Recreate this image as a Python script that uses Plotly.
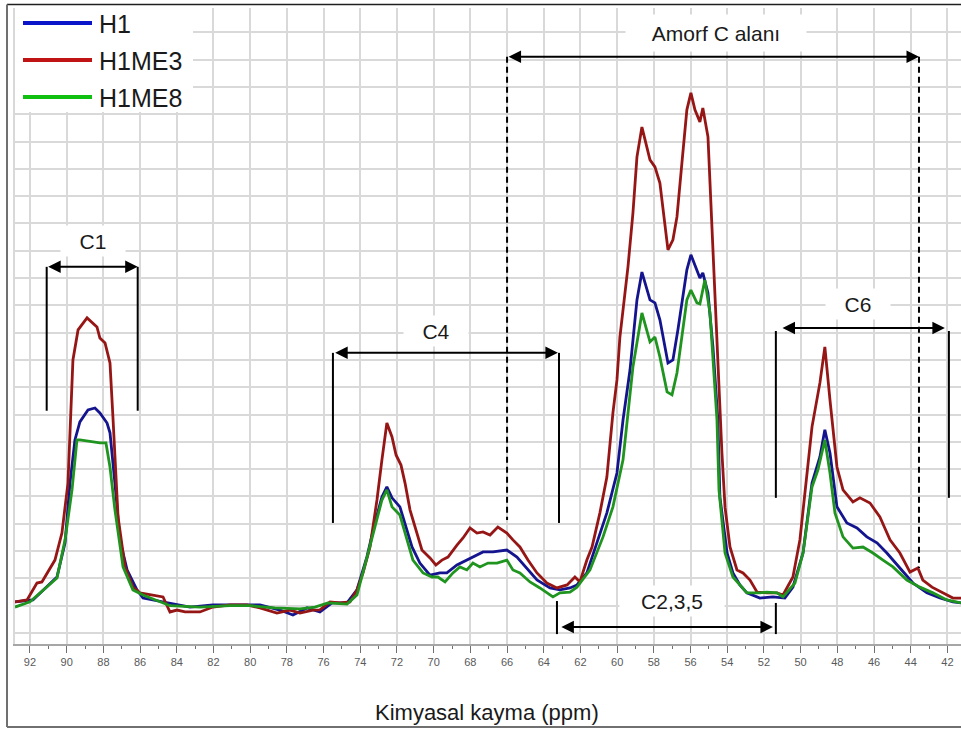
import plotly.graph_objects as go

# ---------------- data (ppm, intensity in arbitrary units) ----------------
h1_ppm = [92.82, 91.84, 90.53, 90.09, 89.82, 89.55, 89.28, 88.84, 88.46, 88.19, 87.80, 87.64,
          87.37, 87.10, 86.71, 86.17, 85.84,
          84.53, 83.28, 82.03, 80.94, 79.47, 78.38, 77.67, 76.90, 76.20,
          75.54, 74.72, 74.18, 73.64, 73.20, 72.82, 72.55, 72.27, 71.84, 71.56, 71.18, 70.75,
          70.20, 69.66, 69.28, 68.73, 68.19, 67.64, 67.31, 66.77, 66.01, 65.46, 64.92, 64.37,
          63.66, 63.12, 62.57, 62.19,
          61.65, 61.10, 60.56, 60.01, 59.68, 59.30, 58.92, 58.65, 58.21, 57.94, 57.67, 57.23,
          56.96, 56.69, 56.20, 55.98, 55.65, 55.49, 55.33, 55.05, 54.78, 54.51, 54.40, 54.01,
          53.69, 53.31, 52.93, 52.22, 51.51,
          50.86, 50.42, 49.87, 49.38, 48.95, 48.68, 48.40, 48.02, 47.48, 46.93, 46.39, 45.84,
          45.30, 44.59, 43.88, 43.12, 42.41, 41.70, 41.26]
h1_int = [1.14, 1.21, 2.05, 3.30, 5.49, 7.07, 7.73, 8.17, 8.24, 8.06, 7.69, 7.33,
          5.49, 3.41, 2.31, 1.58, 1.28,
          1.10, 0.95, 1.03, 1.03, 1.03, 0.84, 0.66, 0.92, 0.77,
          1.10, 1.10, 1.58, 2.78, 4.03, 4.98, 5.35, 4.95, 4.62, 4.03, 3.15, 2.56,
          2.12, 2.20, 2.20, 2.49, 2.67, 2.86, 2.97, 2.97, 3.04, 2.78, 2.38, 1.94,
          1.65, 1.58, 1.65, 1.76,
          2.20, 3.30, 4.40, 5.86, 7.80, 9.63, 12.20, 13.22, 12.20, 12.09, 11.47, 9.89,
          10.00, 11.10, 13.30, 13.85, 13.30, 13.00, 13.19, 12.45, 10.48, 7.80, 4.98, 2.93,
          2.20, 1.76, 1.47, 1.28, 1.32,
          1.28, 1.68, 2.93, 5.49, 6.45, 7.44, 6.59, 4.62, 4.03, 3.85, 3.52, 3.30,
          2.93, 2.38, 1.83, 1.47, 1.28, 1.14, 1.10]

h1me3_ppm = [92.82, 92.16, 91.62, 91.35, 90.64, 90.26, 89.93, 89.66, 89.38, 88.89, 88.35, 88.19,
             87.91, 87.64, 87.48, 87.20, 86.82, 86.39, 86.01,
             84.75, 84.37, 83.99, 83.55, 82.74, 82.03, 81.10, 80.17, 79.47, 78.54, 77.83, 77.29,
             76.58, 76.20,
             75.65, 75.11, 74.56, 74.18, 73.85, 73.47, 73.09, 72.82, 72.55, 72.27, 72.05, 71.78,
             71.56, 71.29, 70.91, 70.64, 70.20, 69.88, 69.55, 69.22, 68.73, 68.40, 68.02, 67.64,
             67.31, 66.93, 66.50, 66.01, 65.68, 65.30, 64.86, 64.37, 63.83, 63.28, 62.73, 62.30,
             62.03,
             61.65, 61.37, 60.94, 60.56, 60.23, 60.01, 59.85, 59.41, 59.14, 58.92, 58.65, 58.21,
             57.94, 57.67, 57.39, 57.23, 56.96, 56.74, 56.47, 56.20, 55.98, 55.76, 55.49, 55.33,
             55.05, 54.78, 54.51, 54.29, 54.12, 53.85, 53.47, 53.14, 52.76, 52.38, 51.84, 51.29,
             50.96, 50.42, 50.04, 49.66, 49.38, 48.95, 48.68, 48.40, 48.02, 47.69, 47.15, 46.77,
             46.22, 45.68, 45.13, 44.59, 44.04, 43.61, 43.34, 42.84, 42.25, 41.70, 41.26]
h1me3_int = [1.14, 1.21, 1.83, 1.87, 2.67, 3.66, 5.49, 10.00, 11.10, 11.54, 11.21, 10.80,
             10.62, 9.89, 7.91, 4.25, 2.42, 1.68, 1.47,
             1.32, 0.77, 0.84, 0.77, 0.77, 0.95, 1.03, 1.03, 0.92, 0.73, 0.84, 0.73,
             0.84, 0.85,
             1.14, 1.10, 1.14, 1.58, 2.20, 3.15, 4.87, 6.34, 7.69, 7.18, 6.52, 6.15,
             5.49, 4.51, 3.66, 3.04, 2.75, 2.49, 2.67, 2.78, 3.22, 3.48, 3.85, 3.66,
             3.70, 3.59, 3.88, 3.66, 3.41, 3.15, 2.67, 2.20, 1.83, 1.65, 1.76, 2.05,
             1.87,
             2.67, 3.15, 4.40, 5.71, 8.06, 9.27, 10.84, 13.41, 15.38, 17.44, 18.53, 17.33,
             17.07, 16.48, 14.76, 14.03, 14.40, 15.24, 17.22, 19.16, 19.78, 19.16, 18.72, 19.23,
             18.17, 14.14, 9.60, 6.60, 4.60, 3.15, 2.31, 2.20, 1.94, 1.50, 1.47, 1.47,
             1.39, 2.05, 3.41, 5.86, 7.55, 9.16, 10.48, 8.53, 6.08, 5.24, 4.80, 4.95,
             4.76, 4.25, 3.41, 2.93, 2.23, 2.38, 1.94, 1.68, 1.47, 1.28, 1.28]

h1me8_ppm = [92.82, 92.00, 90.53, 90.09, 89.71, 89.44, 89.28, 88.19, 87.86, 87.64, 87.37, 86.93,
             86.39, 85.84,
             84.37, 82.74, 81.10, 80.01, 78.65, 77.29, 76.47, 75.76,
             74.72, 74.18, 73.64, 73.20, 72.82, 72.55, 72.27, 71.84, 71.46, 71.13, 70.58, 70.09,
             69.77, 69.38, 68.95, 68.57, 68.19, 67.86, 67.48, 67.04, 66.55, 66.01, 65.68, 65.30,
             64.75, 64.21, 63.50, 63.12, 62.57, 62.19,
             61.48, 60.77, 60.23, 59.68, 59.14, 58.65, 58.21, 57.94, 57.67, 57.28, 57.01, 56.74,
             56.20, 55.98, 55.65, 55.49, 55.22, 54.94, 54.56, 54.45, 54.12, 53.69, 52.93, 52.22,
             51.84, 51.29,
             50.96, 50.31, 49.87, 49.38, 49.06, 48.68, 48.40, 48.13, 47.69, 47.15, 46.60, 46.06,
             45.51, 44.97, 44.21, 43.50, 42.79, 42.03, 41.26]
h1me8_int = [0.95, 1.14, 2.01, 3.41, 5.24, 7.07, 7.07, 6.96, 6.96, 6.08, 4.51, 2.42,
             1.58, 1.39,
             1.00, 0.95, 1.00, 1.00, 0.92, 0.88, 0.95, 1.10,
             1.06, 1.39, 2.75, 3.88, 4.87, 5.24, 4.62, 4.32, 3.41, 2.67, 2.20, 2.05,
             2.05, 1.87, 2.20, 2.42, 2.31, 2.56, 2.42, 2.56, 2.56, 2.67, 2.31, 2.20,
             1.87, 1.65, 1.32, 1.47, 1.50, 1.68,
             2.31, 3.52, 4.62, 6.34, 9.74, 11.72, 10.66, 10.84, 10.11, 8.83, 8.72, 9.52,
             12.20, 12.56, 12.09, 12.05, 12.93, 11.72, 7.80, 5.24, 2.93, 2.05, 1.47, 1.47,
             1.50, 1.47,
             1.32, 1.83, 2.93, 5.35, 5.97, 7.07, 5.86, 4.40, 3.52, 3.11, 3.15, 2.93,
             2.67, 2.42, 1.94, 1.68, 1.47, 1.21, 1.10]

series_names = ["H1", "H1ME3", "H1ME8"]
line_colors = ["#14148F", "#961616", "#1F951F"]
legend_colors = ["#0A14C8", "#C01414", "#10C010"]
tick_vals = [92, 90, 88, 86, 84, 82, 80, 78, 76, 74, 72, 70, 68, 66, 64, 62, 60,
             58, 56, 54, 52, 50, 48, 46, 44, 42]

# ---------------- figure ----------------
W, H = 961, 729
ML, MR, MT, MB = 15, 0, 8, 85
PW, PH = W - ML - MR, H - MT - MB


def px(x):
    return (x - ML) / PW


def py(y):
    return (H - MB - y) / PH


fig = go.Figure()
for name, xs, ys, col in [("H1", h1_ppm, h1_int, line_colors[0]),
                          ("H1ME3", h1me3_ppm, h1me3_int, line_colors[1]),
                          ("H1ME8", h1me8_ppm, h1me8_int, line_colors[2])]:
    fig.add_trace(go.Scatter(x=xs, y=ys, mode="lines", name=name, showlegend=False,
                             line=dict(color=col, width=2.8)))

FONT = "Liberation Sans, Arial, sans-serif"
shapes = []
annotations = []

# manual legend (white box, long line samples)
shapes.append(dict(type="rect", xref="paper", yref="paper", x0=px(15), x1=px(193),
                   y0=py(112), y1=py(8), fillcolor="white", line=dict(width=0), layer="above"))
for i, (nm, lc) in enumerate(zip(series_names, legend_colors)):
    yy = 23 + 37 * i
    shapes.append(dict(type="line", xref="paper", yref="paper", x0=px(23), x1=px(92),
                       y0=py(yy), y1=py(yy), line=dict(color=lc, width=4)))
    annotations.append(dict(xref="paper", yref="paper", x=px(97), y=py(yy + 1), text=nm,
                            showarrow=False, xanchor="left", yanchor="middle",
                            font=dict(family=FONT, size=25, color="#1a1a1a")))


def darrow(x0, x1, y):
    annotations.append(dict(x=x1, y=y, ax=x0, ay=y, xref="x", yref="y", axref="x", ayref="y",
                            text="", showarrow=True, arrowhead=2, startarrowhead=2,
                            arrowside="end+start", arrowsize=1.25, startarrowsize=1.25,
                            arrowwidth=2, arrowcolor="black"))


def vline(x, y0, y1, dash="solid"):
    shapes.append(dict(type="line", xref="x", yref="y", x0=x, x1=x, y0=y0, y1=y1,
                       line=dict(color="black", width=2, dash=dash)))


def label(text, x, y, w, h):
    annotations.append(dict(x=x, y=y, xref="x", yref="y", text=text, showarrow=False,
                            bgcolor="white", width=w, height=h, xanchor="center",
                            yanchor="middle", font=dict(family=FONT, size=21, color="#1a1a1a")))


# C1
vline(91.09, 13.41, 8.14); vline(86.13, 13.41, 8.14); darrow(91.09, 86.13, 13.41)
label("C1", 88.57, 14.36, 62, 28)
# C4
vline(75.49, 10.26, 4.03); vline(63.17, 10.26, 4.03); darrow(75.45, 63.23, 10.26)
label("C4", 69.87, 11.06, 62, 28)
# Amorf C alanı
vline(66.00, 21.10, 4.14, "6px,4px"); vline(43.55, 21.10, 2.38, "6px,4px")
darrow(66.00, 43.55, 21.10)
label("Amorf C alanı", 54.61, 21.98, 178, 34)
# C6
vline(51.35, 11.06, 4.95); vline(41.92, 11.06, 4.95); darrow(51.07, 42.14, 11.17)
label("C6", 46.88, 12.05, 62, 28)
# C2,3,5
vline(63.28, 1.17, -0.04); vline(51.35, 1.10, -0.04); darrow(63.12, 51.51, 0.22)
label("C2,3,5", 57.01, 1.17, 102, 28)

# axis title
annotations.append(dict(xref="paper", yref="paper", x=px(486.5), y=py(712), text="Kimyasal kayma (ppm)",
                        showarrow=False, xanchor="center", yanchor="middle",
                        font=dict(family=FONT, size=22, color="#1a1a1a")))

# outer frame
shapes.append(dict(type="line", xref="paper", yref="paper", x0=px(7), x1=px(975), y0=py(4.5), y1=py(4.5),
                   line=dict(color="#202020", width=1.5)))
shapes.append(dict(type="line", xref="paper", yref="paper", x0=px(7), x1=px(7), y0=py(4.5), y1=py(727),
                   line=dict(color="#707070", width=2)))
shapes.append(dict(type="line", xref="paper", yref="paper", x0=px(7), x1=px(975), y0=py(727), y1=py(727),
                   line=dict(color="#707070", width=2)))

fig.update_layout(
    width=W, height=H,
    margin=dict(l=ML, r=MR, t=MT, b=MB),
    paper_bgcolor="white", plot_bgcolor="white",
    showlegend=False,
    shapes=shapes, annotations=annotations,
    xaxis=dict(range=[92.817, 41.26], tickvals=tick_vals, ticktext=[str(v) for v in tick_vals],
               showgrid=True, gridcolor="#d9d9d9", gridwidth=2,
               ticks="outside", ticklen=7, tickwidth=1.3, tickcolor="#707070",
               minor=dict(dtick=1, tick0=0, ticks="outside", ticklen=3, tickwidth=1.3,
                          tickcolor="#707070", showgrid=False),
               showline=True, linecolor="#a6a6a6", linewidth=2,
               tickfont=dict(family=FONT, size=11, color="#595959"), zeroline=False),
    yaxis=dict(range=[-0.403, 22.89], dtick=1, tick0=0, showticklabels=False, ticks="",
               showgrid=True, gridcolor="#d9d9d9", gridwidth=2, zeroline=False,
               showline=True, linecolor="#d9d9d9", linewidth=2),
)

fig.write_html("out.html")
